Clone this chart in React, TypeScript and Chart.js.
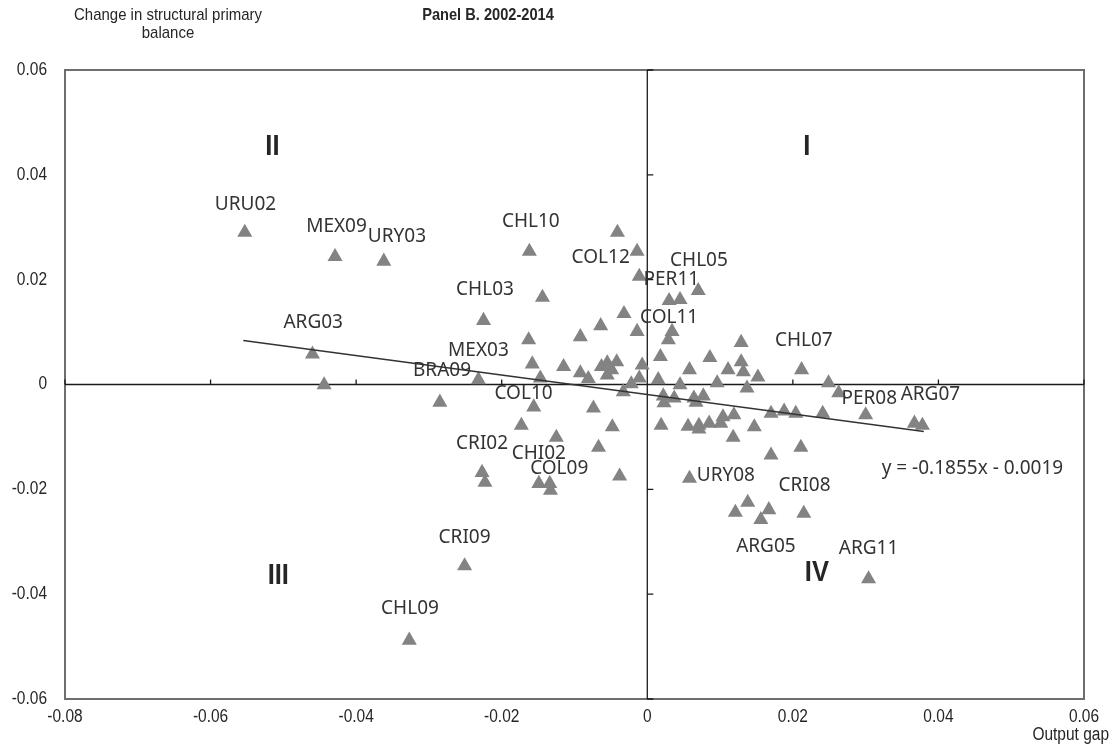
import React, { useRef, useEffect } from "react";
import { Chart, registerables } from "chart.js";

Chart.register(...registerables);

// output gap (x) and change in structural primary balance (y)
const outputGap = [
  -0.0553, -0.0429, -0.0362, -0.046, -0.0444, -0.0285, -0.0232, -0.0225, -0.0162, -0.0144,
  -0.0163, -0.0158, -0.0147, -0.0156, -0.0173, -0.0125, -0.0115, -0.0092, -0.0092, -0.0081,
  -0.0074, -0.0067, -0.0064, -0.0063, -0.0055, -0.0042, -0.0049, -0.0055, -0.0048, -0.0041,
  -0.0038, -0.0033, -0.0022, -0.0011, -0.0032, -0.0014, -0.0011, -0.0014, -0.0007, 0.0015,
  0.0018, 0.0029, 0.0034, 0.003, 0.0045, 0.007, 0.0022, 0.0023, 0.0037, 0.0045,
  0.0058, 0.0064, 0.0077, 0.0067, 0.0019, 0.0056, 0.0071, 0.0085, 0.0071, 0.0086,
  0.0096, 0.0101, 0.0104, 0.0119, 0.0111, 0.0129, 0.0129, 0.0132, 0.0137, 0.0147,
  0.0118, 0.0152, 0.017, 0.0188, 0.0204, 0.0241, 0.0212, 0.0249, 0.0263, 0.03,
  0.0367, 0.0378, 0.017, 0.0211, 0.0058, 0.0138, 0.0121, 0.0167, 0.0156, 0.0215,
  0.0304, -0.0227, -0.0223, -0.0149, -0.0134, -0.0133, -0.0251, -0.0327,
];
const balanceChange = [
  0.029, 0.0244, 0.0235, 0.0058, -0.0001, -0.0034, 0.0009, 0.0122, 0.0254, 0.0166,
  0.0085, 0.0039, 0.0012, -0.0043, -0.0078, -0.0101, 0.0034, 0.0091, 0.0022, 0.0011,
  -0.0045, -0.012, 0.0112, 0.0034, 0.0041, 0.0043, 0.0028, 0.0018, -0.0081, 0.029,
  -0.0175, -0.0014, 0.0001, 0.0012, 0.0135, 0.0254, 0.0206, 0.0101, 0.0037, 0.0009,
  0.0053, 0.0085, 0.0101, 0.016, 0.0162, 0.0179, -0.0022, -0.0035, -0.0026, -0.0001,
  0.0028, -0.0026, -0.0022, -0.0034, -0.0078, -0.008, -0.0078, -0.0074, -0.0085, 0.0051,
  0.0003, -0.0074, -0.0062, -0.0058, 0.0028, 0.008, 0.0043, 0.0024, -0.0007, -0.0081,
  -0.0101, 0.0014, -0.0055, -0.0051, -0.0055, -0.0055, 0.0028, 0.0003, -0.0016, -0.0058,
  -0.0074, -0.0078, -0.0135, -0.012, -0.0179, -0.0225, -0.0244, -0.0239, -0.0258, -0.0246,
  -0.0371, -0.0168, -0.0187, -0.0189, -0.0189, -0.0202, -0.0346, -0.0488,
];

// point labels: name and where the text sits (data units)
const labelNames = [
  "URU02", "MEX09", "URY03", "CHL10", "COL12", "CHL05", "PER11", "CHL03", "COL11", "ARG03",
  "MEX03", "BRA09", "CHL07", "COL10", "PER08", "ARG07", "CRI02", "CHI02", "COL09", "URY08",
  "CRI08", "ARG05", "ARG11", "CRI09", "CHL09",
];
const labelX = [
  -0.0552, -0.0427, -0.0344, -0.016, -0.0064, 0.0071, 0.0033, -0.0223, 0.003, -0.0459,
  -0.0232, -0.0282, 0.0215, -0.017, 0.0305, 0.0389, -0.0227, -0.0149, -0.0121, 0.0108,
  0.0216, 0.0163, 0.0304, -0.0251, -0.0326,
];
const labelY = [
  0.0344, 0.0302, 0.0282, 0.0311, 0.0242, 0.0237, 0.02, 0.0181, 0.0127, 0.0118,
  0.0064, 0.0026, 0.0083, -0.0018, -0.0026, -0.002, -0.0112, -0.0131, -0.016, -0.0173,
  -0.0193, -0.0309, -0.0313, -0.0292, -0.0428,
];

// quadrants
const quadNames = ["I", "II", "III", "IV"];
const quadX = [0.0219, -0.0515, -0.0507, 0.0233];
const quadY = [0.0453, 0.0453, -0.0365, -0.0359];

// linear trend as printed on the chart
const slope = -0.1855;
const intercept = -0.0019;
const trendFrom = -0.0555;
const trendTo = 0.038;

const xTicks = [-0.08, -0.06, -0.04, -0.02, 0, 0.02, 0.04, 0.06];
const yTicks = [-0.06, -0.04, -0.02, 0, 0.02, 0.04, 0.06];

const fmt = (v: number) => (v === 0 ? "0" : v.toFixed(2));
const ARIAL = '"Liberation Sans", Arial, sans-serif';

// narrow-looking text: squeeze horizontally
function narrow(ctx: CanvasRenderingContext2D, text: string, x: number, y: number, align: CanvasTextAlign, k = 0.86) {
  ctx.save();
  ctx.translate(x, y);
  ctx.scale(k, 1);
  ctx.textAlign = align;
  ctx.fillText(text, 0, 0);
  ctx.restore();
}

const overlay = {
  id: "overlay",
  beforeDatasetsDraw(chart: any) {
    const { ctx, chartArea: a, scales } = chart;
    const sx = scales.x;
    const sy = scales.y;
    ctx.save();
    // frame
    ctx.strokeStyle = "#6e6e6e";
    ctx.lineWidth = 2;
    ctx.strokeRect(a.left, a.top, a.right - a.left, a.bottom - a.top);
    // zero axes
    const x0 = sx.getPixelForValue(0);
    const y0 = sy.getPixelForValue(0);
    ctx.strokeStyle = "#1a1a1a";
    ctx.lineWidth = 1.3;
    ctx.beginPath();
    ctx.moveTo(a.left, y0);
    ctx.lineTo(a.right, y0);
    ctx.moveTo(x0, a.top);
    ctx.lineTo(x0, a.bottom);
    xTicks.forEach((v) => {
      const p = sx.getPixelForValue(v);
      ctx.moveTo(p, y0);
      ctx.lineTo(p, y0 - 5);
    });
    yTicks.forEach((v) => {
      const p = sy.getPixelForValue(v);
      ctx.moveTo(x0, p);
      ctx.lineTo(x0 + 6, p);
    });
    ctx.stroke();
    ctx.restore();
  },
  afterDatasetsDraw(chart: any) {
    const { ctx, chartArea: a, scales } = chart;
    const sx = scales.x;
    const sy = scales.y;
    ctx.save();
    ctx.fillStyle = "#262626";
    ctx.textBaseline = "middle";
    ctx.font = `18px ${ARIAL}`;
    yTicks.forEach((v) => narrow(ctx, fmt(v), a.left - 18, sy.getPixelForValue(v), "right"));
    xTicks.forEach((v) => narrow(ctx, fmt(v), sx.getPixelForValue(v), a.bottom + 18, "center"));
    narrow(ctx, "Output gap", 1109, a.bottom + 36, "right");

    ctx.font = `17px ${ARIAL}`;
    narrow(ctx, "Change in structural primary", 168, 15, "center", 0.88);
    narrow(ctx, "balance", 168, 33, "center", 0.88);
    ctx.font = `bold 17px ${ARIAL}`;
    narrow(ctx, "Panel B. 2002-2014", 488, 15, "center", 0.86);

    ctx.font = `bold 29px ${ARIAL}`;
    quadNames.forEach((n, i) =>
      narrow(ctx, n, sx.getPixelForValue(quadX[i]), sy.getPixelForValue(quadY[i]), "center", 0.88)
    );

    ctx.fillStyle = "#333333";
    ctx.font = '19px "Noto Sans", "Open Sans", sans-serif';
    ctx.textAlign = "center";
    labelNames.forEach((n, i) =>
      ctx.fillText(n, sx.getPixelForValue(labelX[i]), sy.getPixelForValue(labelY[i]))
    );
    ctx.textAlign = "left";
    ctx.fillText("y = -0.1855x - 0.0019", sx.getPixelForValue(0.0322), sy.getPixelForValue(-0.016));
    ctx.restore();
  },
};

export default function App() {
  const canvasRef = useRef<HTMLCanvasElement>(null);
  const chartRef = useRef<Chart | null>(null);

  useEffect(() => {
    document.body.style.margin = "0";
    if (!canvasRef.current) return;
    if (chartRef.current) chartRef.current.destroy();

    const points = outputGap.map((x, i) => ({ x, y: balanceChange[i] }));
    const trend = [trendFrom, trendTo].map((x) => ({ x, y: slope * x + intercept }));

    chartRef.current = new Chart(canvasRef.current, {
      type: "scatter",
      data: {
        datasets: [
          {
            type: "line",
            data: trend,
            borderColor: "#333333",
            borderWidth: 1.5,
            pointRadius: 0,
            fill: false,
          },
          {
            data: points,
            pointStyle: "triangle",
            pointRadius: 8.7,
            backgroundColor: "#838383",
            borderWidth: 0,
          },
        ],
      },
      options: {
        animation: false,
        responsive: false,
        events: [],
        layout: { padding: { left: 65, right: 28, top: 70, bottom: 50 } },
        plugins: { legend: { display: false }, tooltip: { enabled: false } },
        scales: {
          x: { type: "linear", min: -0.08, max: 0.06, display: false },
          y: { type: "linear", min: -0.06, max: 0.06, display: false },
        },
      },
      plugins: [overlay],
    });

    return () => {
      if (chartRef.current) {
        chartRef.current.destroy();
        chartRef.current = null;
      }
    };
  }, []);

  return (
    <div style={{ width: 1112, height: 749, background: "#fff" }}>
      <canvas ref={canvasRef} width={1112} height={749}></canvas>
    </div>
  );
}
